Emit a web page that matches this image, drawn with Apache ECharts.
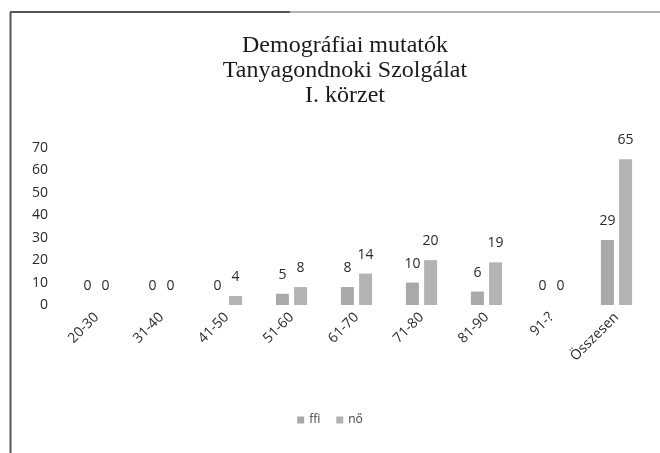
<!DOCTYPE html>
<html><head><meta charset="utf-8">
<script src="https://cdn.jsdelivr.net/npm/echarts@6/dist/echarts.min.js"></script>
<style>html,body{margin:0;padding:0;background:#fff}#c{width:660px;height:453px}</style>
</head><body><div id="c"></div>
<script>
const categories = ["20-30","31-40","41-50","51-60","61-70","71-80","81-90","91-?","Összesen"];
const ffi = [0,0,0,5,8,10,6,0,29];
const no = [0,0,4,8,14,20,19,0,65];
const seriesNames = ["ffi","nő"];
const yTicks = {min:0,max:70,interval:10};

const chart = echarts.init(document.getElementById('c'));
const lbl = {show:true,position:'top',distance:12,color:'#2a2a2a',fontFamily:'Open Sans, sans-serif',fontSize:14};
chart.setOption({
  animation:false,
  title:{text:"Demográfiai mutatók\nTanyagondnoki Szolgálat\nI. körzet",left:340,textAlign:'center',top:28,
    textStyle:{fontFamily:'Liberation Serif, serif',fontWeight:'normal',fontSize:24,color:'#1a1a1a',lineHeight:25}},
  legend:{bottom:22,left:'center',itemWidth:7,itemHeight:7,itemGap:16,icon:'rect',
    textStyle:{fontFamily:'Open Sans, sans-serif',fontSize:12,color:'#444'}},
  grid:{left:64,right:11,top:148,bottom:148,containLabel:false},
  xAxis:{type:'category',data:categories,axisLine:{show:false},axisTick:{show:false},
    axisLabel:{rotate:45,fontFamily:'Open Sans, sans-serif',fontSize:14,color:'#2a2a2a',margin:10,interval:0}},
  yAxis:{type:'value',min:yTicks.min,max:yTicks.max,interval:yTicks.interval,splitLine:{show:false},axisLine:{show:false},
    axisLabel:{fontFamily:'Open Sans, sans-serif',fontSize:14,color:'#2a2a2a',margin:16}},
  graphic:[
    {type:'line',shape:{x1:10,y1:12,x2:660,y2:12},style:{stroke:'#999',lineWidth:1.5}},
    {type:'line',shape:{x1:10,y1:12,x2:290,y2:12},style:{stroke:'#555',lineWidth:2}},
    {type:'line',shape:{x1:10.5,y1:12,x2:10.5,y2:453},style:{stroke:'#555',lineWidth:2}}
  ],
  series:[
    {name:seriesNames[0],type:'bar',data:ffi,barWidth:13,barGap:'40%',itemStyle:{color:'#a9a9a9'},label:lbl},
    {name:seriesNames[1],type:'bar',data:no,barWidth:13,itemStyle:{color:'#b3b3b3'},label:lbl}
  ]
});
</script></body></html>
